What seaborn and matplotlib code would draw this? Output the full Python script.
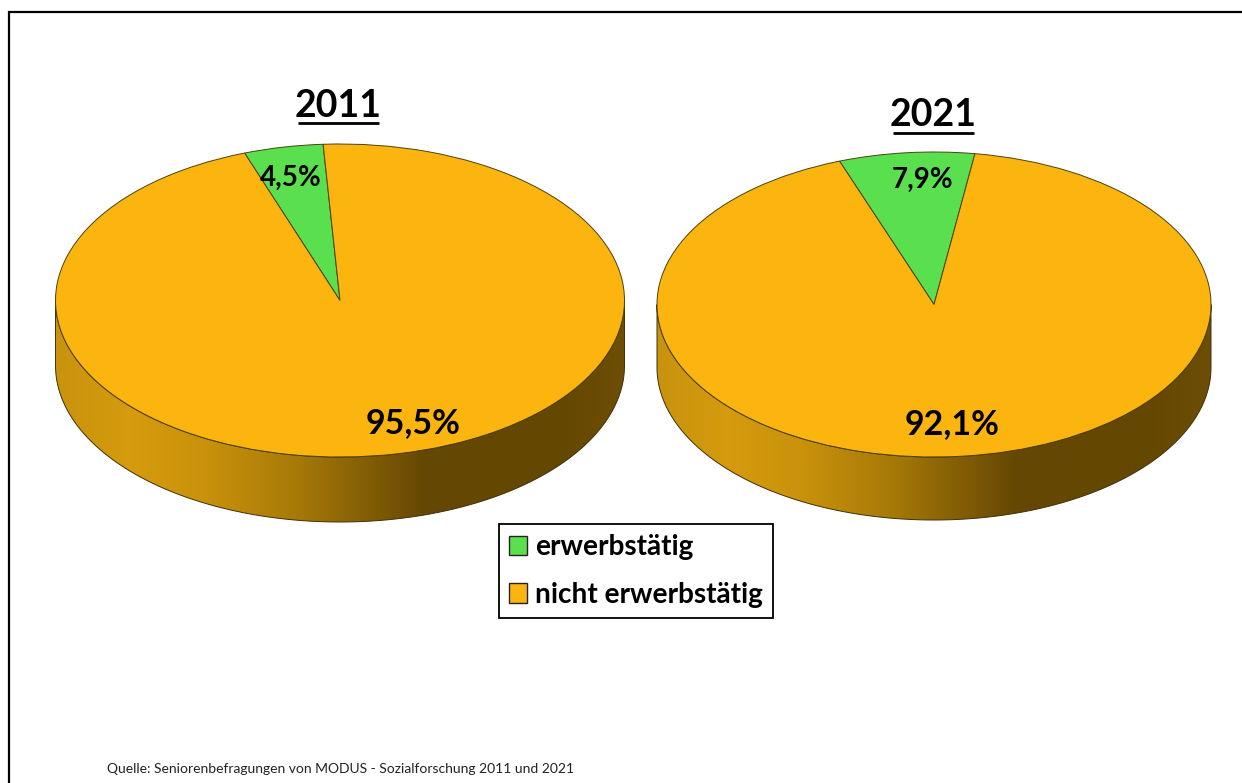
import numpy as np
import matplotlib
matplotlib.use("Agg")
import matplotlib.pyplot as plt
from matplotlib.colors import LinearSegmentedColormap
from matplotlib.patches import Patch, Polygon
import seaborn as sns

categories = ["erwerbstätig", "nicht erwerbstätig"]
years = ["2011", "2021"]
shares_2011 = [4.5, 95.5]
shares_2021 = [7.9, 92.1]
source_note = "Quelle: Seniorenbefragungen von MODUS - Sozialforschung 2011 und 2021"

W, H = 1242, 783
sns.set_theme(style="white")
plt.rcParams["font.family"] = ["Lato", "DejaVu Sans"]
palette = sns.color_palette(["#5AE04F", "#FCB50F"])

# Side wall shading runs from warm gold on the left to deep brown on the right
wall_cmap = LinearSegmentedColormap.from_list(
    "wall",
    [(0.0, "#C8930E"), (0.13, "#D69B0D"), (0.26, "#C9920B"), (0.42, "#A87A08"),
     (0.56, "#7F5B05"), (0.65, "#644703"), (0.88, "#644700"), (1.0, "#6E4E05")],
)

fig = plt.figure(figsize=(W / 100, H / 100), dpi=100, facecolor="white")


def px_axes(x0, y0, x1, y1, **kw):
    return fig.add_axes([x0 / W, 1 - y1 / H, (x1 - x0) / W, (y1 - y0) / H], **kw)


def draw_disc(values, cx, cy, rx, ry, depth, start):
    ax = px_axes(cx - rx, cy - ry, cx + rx, cy + ry + depth)
    ax.pie(values, colors=palette, startangle=start, counterclock=True, radius=1,
           wedgeprops=dict(edgecolor="#4A4212", linewidth=0.7, clip_on=False, zorder=3))
    d = depth / ry
    t = np.linspace(np.pi, 2 * np.pi, 200)
    outline = np.r_[np.c_[np.cos(t), np.sin(t) - d],
                    np.c_[np.cos(t[::-1]), np.sin(t[::-1])]]
    wall = Polygon(outline, closed=True, facecolor="none", edgecolor="#3F300A",
                   linewidth=0.7, clip_on=False, zorder=2)
    ax.add_patch(wall)
    shade = ax.imshow(np.linspace(0, 1, 512)[None, :], cmap=wall_cmap, aspect="auto",
                      extent=(-1, 1, -1 - d, 1), zorder=1)
    shade.set_clip_path(wall)
    ax.set_aspect("auto")
    ax.set_xlim(-1, 1)
    ax.set_ylim(-1 - d, 1)
    ax.axis("off")
    ax.patch.set_alpha(0)


draw_disc(shares_2011, 340, 300.5, 284.5, 156.5, 65, 93.4)
draw_disc(shares_2021, 934, 304.5, 277, 152.5, 63, 81.5)

# Overlay in pixel units for the frame, headings, value labels and legend
top = px_axes(0, 0, W, H)
top.set_xlim(0, W)
top.set_ylim(H, 0)
top.axis("off")
top.patch.set_alpha(0)

top.plot([8.5, 8.5, W], [H, 11.5, 11.5], color="black", lw=1.6, solid_joinstyle="miter")


def fmt(v):
    return f"{v:.1f}".replace(".", ",") + "%"


value_spots = [(shares_2011, [(290.5, 178), (413, 423)]),
               (shares_2021, [(923, 180), (952, 424)])]
for values, spots in value_spots:
    for v, (x, y) in zip(values, spots):
        top.text(x, y, fmt(v), ha="center", va="center", fontsize=24.5 if v > 50 else 20,
                 fontweight="bold", color="black")

for year, x, base, x0, x1, uy in [(years[0], 338.5, 117, 298, 379, 123),
                                  (years[1], 933.5, 126, 893, 974, 132.7)]:
    top.text(x, base, year, ha="center", va="baseline", fontsize=27, fontweight="bold",
             color="black")
    top.plot([x0, x1], [uy, uy], color="black", lw=2.0, solid_capstyle="butt")

handles = [Patch(facecolor=c, edgecolor="#222222", linewidth=1.0) for c in palette]
leg = top.legend(handles, categories, loc="center", bbox_to_anchor=(636, 571),
                 bbox_transform=top.transData, frameon=True, fancybox=False,
                 framealpha=1, edgecolor="black", labelcolor="black",
                 prop=dict(family="Lato", weight="bold", size=20.2),
                 handlelength=0.64, handleheight=0.7, handletextpad=0.3,
                 labelspacing=0.76, borderpad=0.36, borderaxespad=0)
leg.get_frame().set_linewidth(1.3)

top.text(107, 769, source_note, ha="left", va="center", fontsize=10, color="#222222")

fig.savefig("out.png", dpi=100)
